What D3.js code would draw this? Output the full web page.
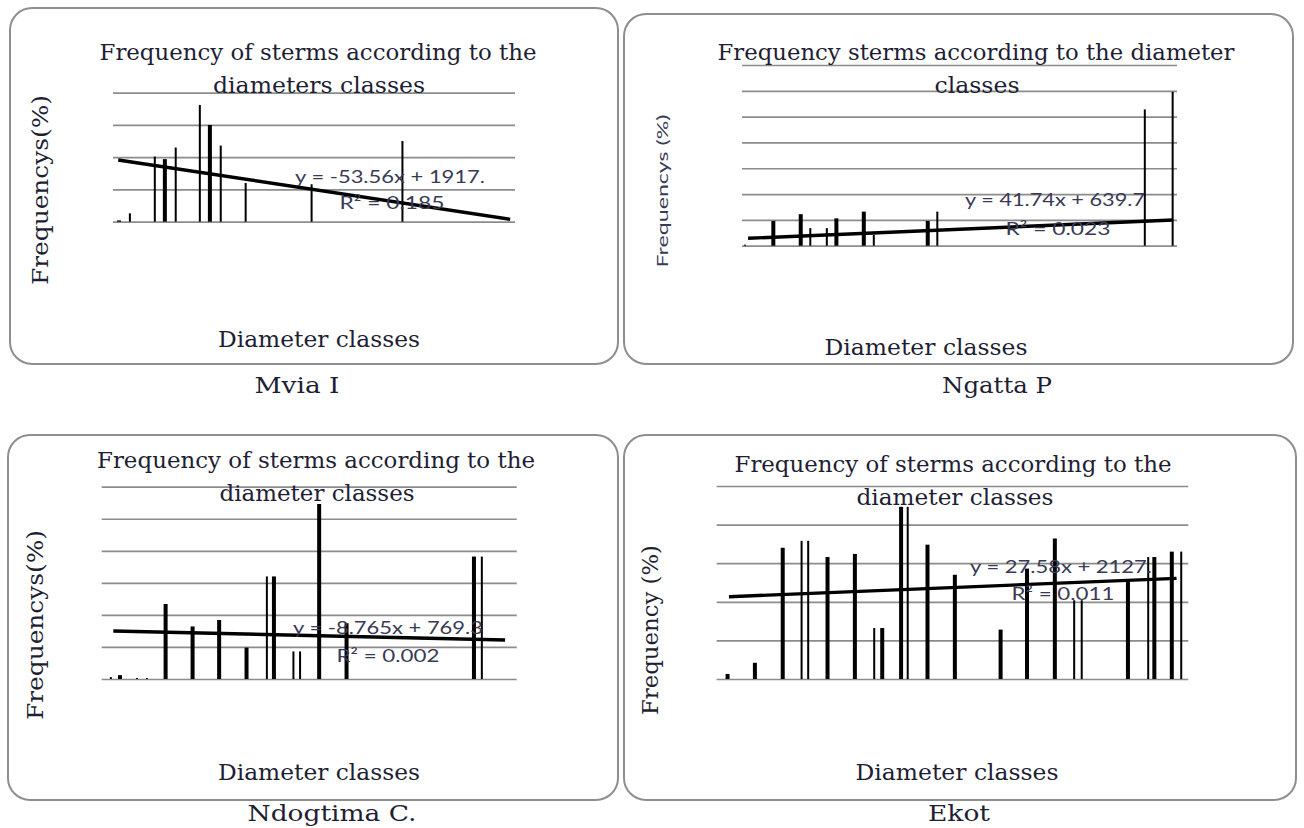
<!DOCTYPE html>
<html>
<head>
<meta charset="utf-8">
<script src="https://cdn.jsdelivr.net/npm/d3@7"></script>
<style>
  body { margin: 0; background: #fff; }
  svg { display: block; }
  .serif { font-family: 'DejaVu Serif', 'Liberation Serif', serif; fill: #1e1e34; }
  .sans { font-family: Lato, 'Open Sans', sans-serif; fill: #3a3a55; }
</style>
</head>
<body>
<svg id="chart" width="1304" height="828"></svg>
<script>
// Mvia I
const mviaThickClasses = [1.5, 12.9, 24.1]
const mviaThickValues = [0.2, 9.7, 15.0]
const mviaThinClasses = [4.2, 10.4, 15.6, 21.6, 26.8, 33.0, 49.4, 72.0]
const mviaThinValues = [1.3, 10.1, 11.5, 18.1, 11.8, 6.0, 5.8, 12.5]
const mviaTrend = [[1.3, 9.57], [98.8, 0.37]]

// Ngatta P
const ngattaThickClasses = [7.2, 13.5, 21.7, 28.0, 42.7]
const ngattaThickValues = [4.8, 6.1, 5.3, 6.6, 4.8]
const ngattaThinClasses = [0.7, 15.7, 19.5, 30.3, 44.9, 92.6, 99.0]
const ngattaThinValues = [0.2, 3.4, 3.4, 2.1, 6.6, 26.4, 29.8]
const ngattaTrend = [[1.4, 1.43], [99.1, 4.98]]

// Ndogtima C.
const ndogThickClasses = [4.4, 15.4, 21.9, 28.3, 34.9, 41.5, 52.4, 59.0, 89.7]
const ndogThickValues = [0.6, 11.7, 8.2, 9.2, 4.9, 16.0, 27.3, 8.7, 19.1]
const ndogThinClasses = [2.2, 8.5, 10.9, 39.8, 46.2, 47.8, 91.6]
const ndogThinValues = [0.3, 0.15, 0.15, 16.0, 4.3, 4.3, 19.1]
const ndogTrend = [[2.8, 7.49], [97.2, 6.08]]

// Ekot
const ekotThickClasses = [2.3, 8.1, 14.0, 23.5, 29.3, 35.1, 39.1, 44.7, 50.5, 60.2, 65.8, 71.7, 87.2, 92.8, 96.5]
const ekotThickValues = [0.65, 2.1, 17.0, 15.8, 16.2, 6.6, 22.3, 17.4, 13.5, 6.4, 14.3, 18.2, 12.6, 15.8, 16.5]
const ekotThinClasses = [18.0, 19.4, 33.4, 40.5, 75.8, 77.4, 91.5, 98.5]
const ekotThinValues = [17.9, 17.9, 6.6, 22.3, 10.2, 10.2, 15.8, 16.5]
const ekotTrend = [[2.6, 10.66], [97.5, 13.04]]

const titles = [
  ['Frequency of sterms according to the', 'diameters classes'],
  ['Frequency sterms according to the diameter', 'classes'],
  ['Frequency of sterms according to the', 'diameter classes'],
  ['Frequency of sterms according to the', 'diameter classes']
]
const yLabels = ['Frequencys(%)', 'Frequencys (%)', 'Frequencys(%)', 'Frequency (%)']
const captions = ['Mvia I', 'Ngatta P', 'Ndogtima C.', 'Ekot']
const equations = ['y = -53.56x + 1917.', 'y = 41.74x + 639.7', 'y = -8.765x + 769.3', 'y = 27.58x + 2127.']
const rSquared = ['R² = 0.185', 'R² = 0.023', 'R² = 0.002', 'R² = 0.011']
const yMax = [20, 35, 30, 25]

const panels = [
  { thick: [mviaThickClasses, mviaThickValues], thin: [mviaThinClasses, mviaThinValues], trend: mviaTrend,
    box: [10, 8, 608, 356], xr: [113, 515], yr: [221.7, 92.7],
    title: [[318, 60, 437], [319, 93, 212]], ylab: [48, 190, 190, 'serif'], xlab: [319, 347, 202], cap: [297, 393, 85],
    eq: [390, 183, 190], r2: [392, 209, 105] },
  { thick: [ngattaThickClasses, ngattaThickValues], thin: [ngattaThinClasses, ngattaThinValues], trend: ngattaTrend,
    box: [624, 14, 669, 350], xr: [742, 1177], yr: [245.7, 65],
    title: [[976, 60, 517], [977, 93, 85]], ylab: [668, 191, 153, 'sans'], xlab: [926, 355, 203], cap: [997, 393, 110],
    eq: [1055, 206, 180], r2: [1058, 235, 105] },
  { thick: [ndogThickClasses, ndogThickValues], thin: [ndogThinClasses, ndogThinValues], trend: ndogTrend,
    box: [8, 435, 610, 365], xr: [101.7, 516.7], yr: [679, 486.7],
    title: [[316, 468, 438], [317, 501, 195]], ylab: [43, 625, 190, 'serif'], xlab: [319, 780, 202], cap: [332, 821, 169],
    eq: [388, 634, 190], r2: [388, 662, 103] },
  { thick: [ekotThickClasses, ekotThickValues], thin: [ekotThinClasses, ekotThinValues], trend: ekotTrend,
    box: [624, 435, 672, 365], xr: [716.7, 1188.3], yr: [679, 486],
    title: [[953, 472, 437], [955, 505, 197]], ylab: [658, 630, 170, 'serif'], xlab: [957, 780, 203], cap: [959, 821, 62],
    eq: [1061, 573, 182], r2: [1063, 600, 103] }
]

const svg = d3.select('#chart')

const addText = (g, cls, txt, x, y, len, size) => g.append('text')
  .attr('class', cls)
  .attr('x', x).attr('y', y)
  .attr('text-anchor', 'middle')
  .attr('font-size', size)
  .attr('textLength', len)
  .attr('lengthAdjust', 'spacingAndGlyphs')
  .text(txt)

panels.forEach((p, i) => {
  const g = svg.append('g')

  g.append('rect')
    .attr('x', p.box[0]).attr('y', p.box[1])
    .attr('width', p.box[2]).attr('height', p.box[3])
    .attr('rx', 22).attr('ry', 22)
    .attr('fill', 'none')
    .attr('stroke', '#8e8e8e')
    .attr('stroke-width', 2)

  const x = d3.scaleLinear().domain([0, 100]).range(p.xr)
  const y = d3.scaleLinear().domain([0, yMax[i]]).range(p.yr)

  // gridlines
  g.append('g')
    .attr('transform', `translate(${p.xr[0]},0)`)
    .call(d3.axisLeft(y).ticks(yMax[i] / 5).tickSize(-(p.xr[1] - p.xr[0])).tickFormat(''))
    .call(a => a.select('.domain').remove())
    .call(a => a.selectAll('line').attr('stroke', '#8c8c8c').attr('stroke-width', 1.7))

  // bars
  const drawBars = (series, w) => {
    const data = series[0].map((c, k) => ({ c, v: series[1][k] }))
    g.append('g').selectAll('rect')
      .data(data)
      .enter().append('rect')
      .attr('x', d => x(d.c) - w / 2)
      .attr('y', d => y(d.v))
      .attr('width', w)
      .attr('height', d => Math.max(1, y(0) - y(d.v)))
      .attr('fill', '#000')
  }
  drawBars(p.thin, 2)
  drawBars(p.thick, 4)

  // linear trend
  g.append('path')
    .datum(p.trend)
    .attr('d', d3.line().x(d => x(d[0])).y(d => y(d[1])))
    .attr('stroke', '#000')
    .attr('stroke-width', 3.4)
    .attr('fill', 'none')

  // text
  titles[i].forEach((t, k) => addText(g, 'serif', t, p.title[k][0], p.title[k][1], p.title[k][2], 23))
  addText(g, 'sans', equations[i], p.eq[0], p.eq[1], p.eq[2], 18)
  addText(g, 'sans', rSquared[i], p.r2[0], p.r2[1], p.r2[2], 18)
  addText(g, 'serif', 'Diameter classes', p.xlab[0], p.xlab[1], p.xlab[2], 23)
  addText(svg, 'serif', captions[i], p.cap[0], p.cap[1], p.cap[2], 23)

  const yl = p.ylab
  g.append('text')
    .attr('class', yl[3])
    .attr('transform', `translate(${yl[0]},${yl[1]}) rotate(-90)`)
    .attr('text-anchor', 'middle')
    .attr('font-size', yl[3] === 'sans' ? 16 : 22)
    .attr('textLength', yl[2])
    .attr('lengthAdjust', 'spacingAndGlyphs')
    .text(yLabels[i])
})
</script>
</body>
</html>
